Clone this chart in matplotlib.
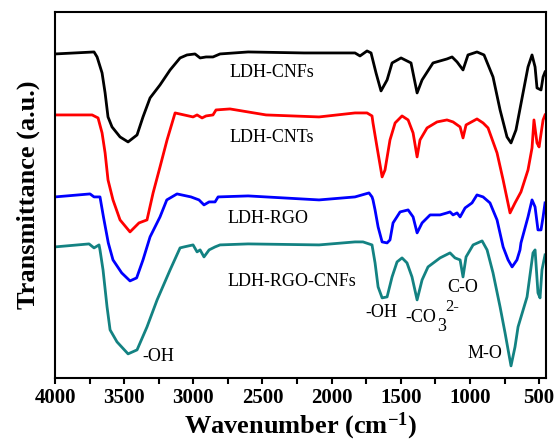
import numpy as np
import matplotlib
matplotlib.use('Agg')
from matplotlib import pyplot as plt
from matplotlib.ticker import MultipleLocator

plt.rcParams['font.family'] = ['Liberation Serif', 'DejaVu Serif']
plt.rcParams['mathtext.fontset'] = 'custom'
plt.rcParams['mathtext.rm'] = 'Liberation Serif'
plt.rcParams['mathtext.it'] = 'Liberation Serif:italic'
plt.rcParams['mathtext.bf'] = 'Liberation Serif:bold'

# LDH-CNFs (black)
wn_cnfs = [4000, 3718, 3696, 3660, 3638, 3617, 3588, 3530, 3472, 3407, 3364, 3313,
           3241, 3168, 3096, 3046, 2988, 2951, 2908, 2858, 2807, 2604, 2200, 1831,
           1795, 1744, 1715, 1679, 1643, 1599, 1563, 1498, 1426, 1382, 1346, 1267,
           1166, 1129, 1093, 1050, 1014, 949, 898, 833, 782, 732, 703, 667, 616,
           580, 551, 529, 515, 486, 471, 457]
t_cnfs = [324, 326, 321, 305, 285, 261, 251, 241, 236, 243, 261, 280,
          293, 308, 320, 323, 324, 320, 321, 321, 324, 326, 325, 325,
          322, 327, 325, 305, 287, 298, 315, 320, 315, 285, 298, 315,
          319, 321, 316, 308, 323, 326, 323, 301, 268, 241, 235, 248, 285,
          311, 323, 311, 290, 288, 301, 306]

# LDH-CNTs (red)
wn_cnts = [4000, 3732, 3689, 3660, 3638, 3617, 3581, 3530, 3458, 3393, 3335, 3291,
           3241, 3190, 3132, 3067, 3002, 2973, 2937, 2908, 2858, 2836, 2735, 2474,
           2091, 1831, 1744, 1708, 1701, 1672, 1635, 1614, 1578, 1541, 1491, 1447,
           1411, 1382, 1361, 1310, 1238, 1166, 1122, 1071, 1050, 1028, 949, 905,
           869, 804, 760, 710, 674, 631, 580, 551, 537, 515, 500, 471, 457]
t_cnts = [263, 263, 260, 245, 225, 198, 178, 158, 146, 155, 158, 185,
          211, 238, 265, 263, 261, 263, 260, 262, 263, 268, 269, 263,
          261, 265, 265, 262, 255, 231, 201, 208, 238, 255, 262, 258,
          245, 221, 238, 250, 256, 258, 256, 251, 240, 253, 259, 255,
          250, 225, 198, 165, 175, 186, 208, 230, 258, 235, 231, 258, 263]

# LDH-RGO (blue)
wn_rgo = [4000, 3747, 3718, 3675, 3650, 3615, 3581, 3518, 3458, 3410, 3364, 3313,
          3241, 3192, 3118, 3017, 2959, 2923, 2886, 2843, 2821, 2604, 2091, 1831,
          1730, 1708, 1701, 1686, 1664, 1635, 1599, 1578, 1556, 1505, 1447, 1411,
          1382, 1346, 1288, 1216, 1166, 1144, 1122, 1093, 1071, 1035, 985, 949,
          905, 855, 804, 760, 724, 695, 660, 638, 631, 580, 551, 529, 508, 486,
          471, 457]
t_rgo = [181, 184, 181, 181, 161, 135, 118, 105, 97, 100, 118, 141,
         161, 178, 184, 181, 178, 173, 176, 176, 181, 182, 178, 181,
         185, 181, 178, 168, 151, 136, 135, 138, 155, 166, 168, 161,
         145, 155, 163, 163, 165, 166, 163, 165, 161, 170, 175, 183,
         181, 175, 158, 131, 118, 111, 118, 128, 135, 161, 178, 171, 148, 148,
         161, 175]

# LDH-RGO-CNFs (teal)
wn_rgo_cnfs = [4000, 3754, 3718, 3682, 3675, 3653, 3624, 3602, 3552, 3472, 3407, 3335,
               3262, 3168, 3096, 3067, 3002, 2973, 2951, 2923, 2886, 2843, 2807, 2604,
               2091, 1831, 1773, 1708, 1686, 1664, 1635, 1599, 1563, 1527, 1491, 1455,
               1419, 1382, 1346, 1303, 1216, 1144, 1108, 1071, 1050, 1028, 977, 912,
               876, 833, 782, 746, 703, 674, 652, 587, 544, 529, 508, 493, 479, 457]
t_rgo_cnfs = [131, 134, 130, 133, 128, 108, 71, 48, 36, 24, 28, 51,
              78, 108, 130, 131, 133, 126, 128, 121, 128, 131, 133, 134,
              133, 136, 136, 133, 115, 91, 80, 81, 101, 116, 120, 115,
              101, 78, 98, 111, 120, 125, 120, 118, 101, 121, 133, 137,
              128, 105, 71, 45, 12, 31, 51, 81, 125, 128, 85, 80, 108, 123]

series = [
    (wn_cnfs, t_cnfs, 'black'),
    (wn_cnts, t_cnts, '#ff0000'),
    (wn_rgo, t_rgo, '#0000ff'),
    (wn_rgo_cnfs, t_rgo_cnfs, '#138282'),
]

fig = plt.figure(figsize=(5.56, 4.43), dpi=100)
ax = fig.add_axes([0.099, 0.147, 0.883, 0.826])

for wn, t, color in series:
    ax.plot(wn, t, color=color, lw=2)

ax.set_xlim(4000, 450)
ax.set_ylim(0, 366)

ax.xaxis.set_major_locator(MultipleLocator(500))
ax.xaxis.set_minor_locator(MultipleLocator(250))
ax.tick_params(axis='x', which='both', direction='out', length=4, width=1.5,
               top=False, labelsize=15, pad=3)
ax.set_yticks([])
for lab in ax.get_xticklabels():
    lab.set_fontweight('bold')
for sp in ax.spines.values():
    sp.set_linewidth(1.5)

ax.set_xlabel('Wavenumber (cm$^{\\mathbf{-1}}$)', fontsize=19, fontweight='bold', labelpad=2)
ax.set_ylabel('Transmittance (a.u.)', fontsize=19, fontweight='bold', labelpad=11)

ax.text(2431, 305, 'LDH-CNFs', fontsize=13, ha='center', va='center')
ax.text(2431, 240, 'LDH-CNTs', fontsize=13, ha='center', va='center')
ax.text(2460, 159, 'LDH-RGO', fontsize=13, ha='center', va='center')
ax.text(2286, 96, 'LDH-RGO-CNFs', fontsize=13, ha='center', va='center')
ax.text(3371, 21, '-OH', fontsize=13, ha='left', va='center')
ax.text(1643, 65, '-OH', fontsize=13, ha='center', va='center')
# -CO3 2- written as three pieces so sub/superscript keep the large size
ax.text(1469, 60, '-CO', fontsize=13, ha='left', va='center')
ax.text(1240, 51, '3', fontsize=13, ha='left', va='center')
ax.text(1180, 71, '2-', fontsize=12, ha='left', va='center')
ax.text(1050, 90, 'C-O', fontsize=13, ha='center', va='center')
ax.text(891, 24, 'M-O', fontsize=13, ha='center', va='center')

fig.savefig('out.png', dpi=100)
